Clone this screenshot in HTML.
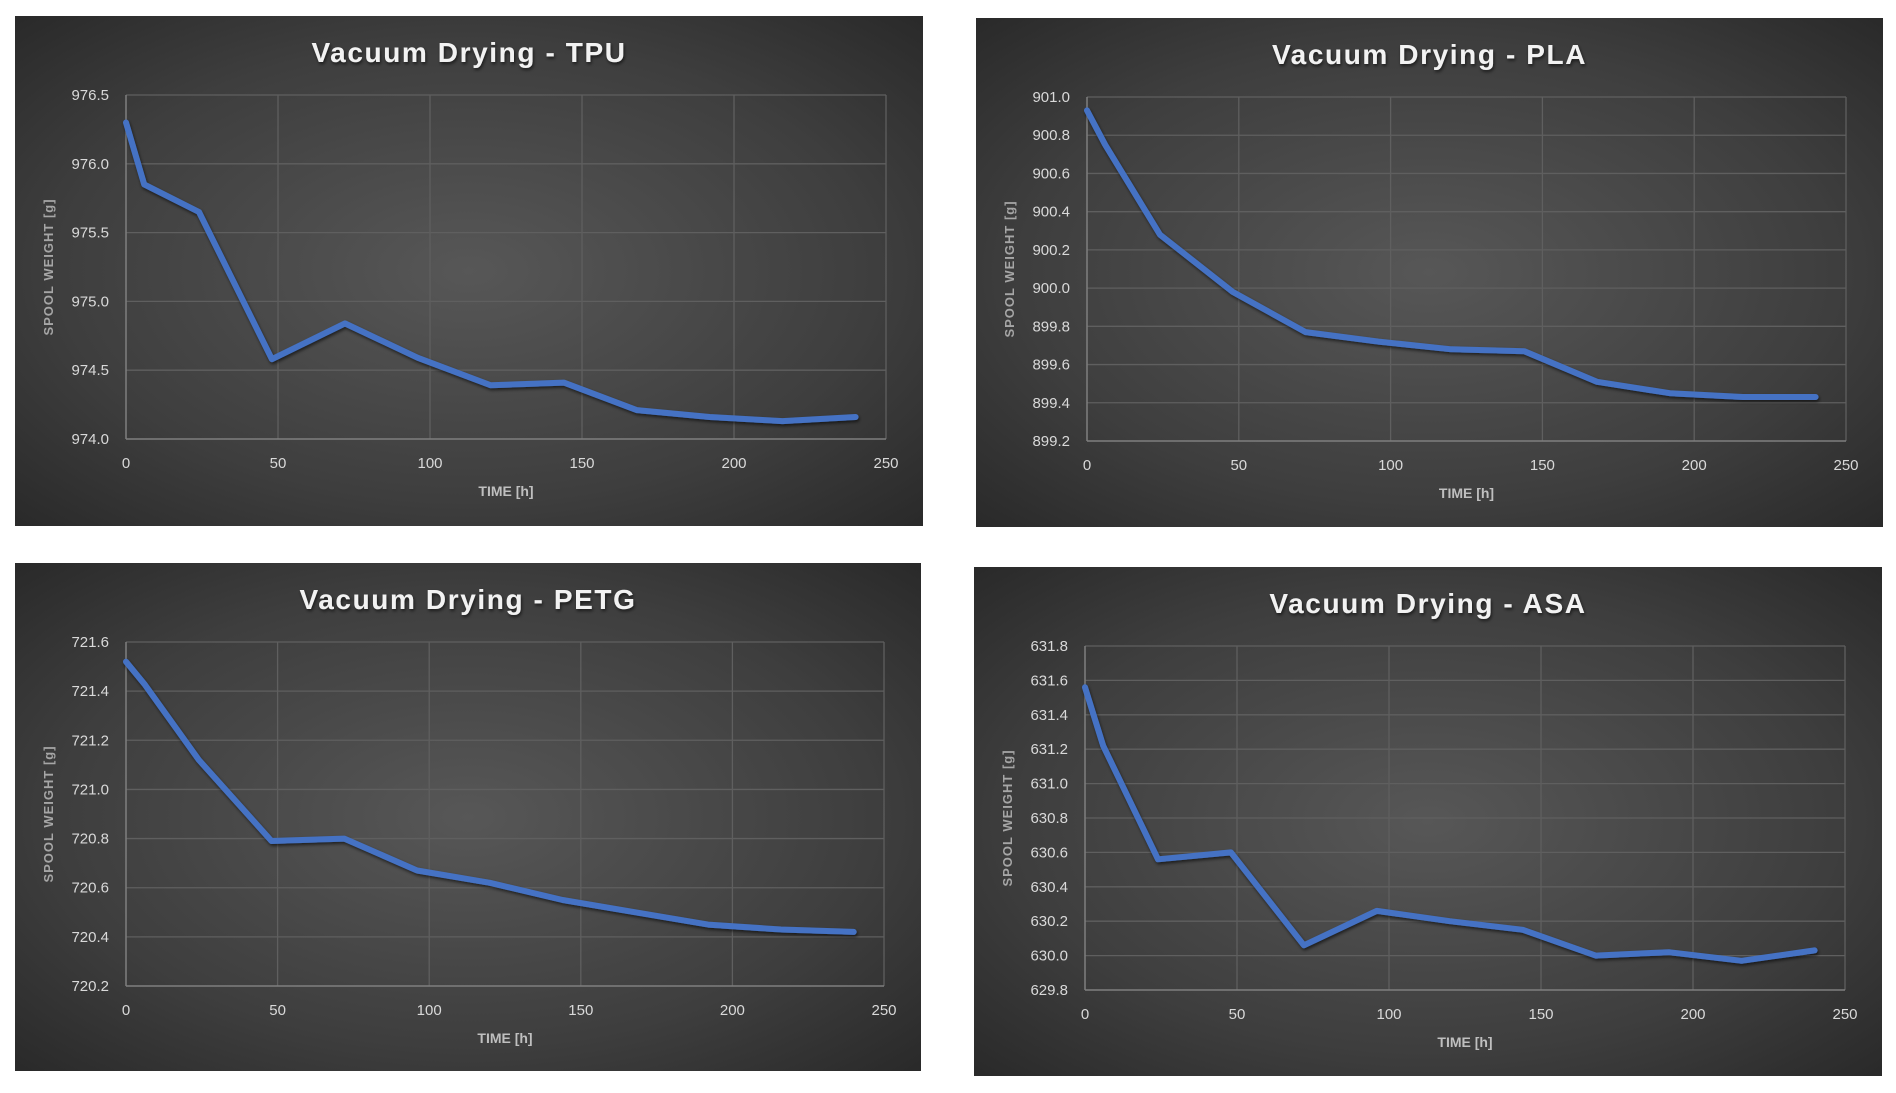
<!DOCTYPE html>
<html><head><meta charset="utf-8">
<style>
html,body{margin:0;padding:0;background:#fff;}
body{width:1896px;height:1093px;position:relative;overflow:hidden;}
svg{position:absolute;left:0;top:0;}
text{font-family:"Liberation Sans",sans-serif;}
</style></head>
<body>
<svg id="chart" width="1896" height="1093" xmlns="http://www.w3.org/2000/svg">
<defs>
<radialGradient id="bg" cx="0.5" cy="0.5" r="0.75">
<stop offset="0" stop-color="#575757"/>
<stop offset="0.6" stop-color="#3e3e3e"/>
<stop offset="1" stop-color="#262626"/>
</radialGradient>
<filter id="sh" x="-5%" y="-5%" width="110%" height="120%"><feDropShadow dx="1" dy="2" stdDeviation="1.5" flood-color="#000" flood-opacity="0.6"/></filter>
</defs>
</svg>
<script>
const times = [0,6,24,48,72,96,120,144,168,192,216,240];
const tpuValues = [976.30,975.85,975.65,974.58,974.84,974.59,974.39,974.41,974.21,974.16,974.13,974.16];
const plaValues = [900.93,900.75,900.28,899.98,899.77,899.72,899.68,899.67,899.51,899.45,899.43,899.43];
const petgValues = [721.52,721.43,721.12,720.79,720.80,720.67,720.62,720.55,720.50,720.45,720.43,720.42];
const asaValues = [631.56,631.22,630.56,630.60,630.06,630.26,630.20,630.15,630.00,630.02,629.97,630.03];
const xTicks = [0,50,100,150,200,250];
const tpuTicks = [974.0,974.5,975.0,975.5,976.0,976.5];
const plaTicks = [899.2,899.4,899.6,899.8,900.0,900.2,900.4,900.6,900.8,901.0];
const petgTicks = [720.2,720.4,720.6,720.8,721.0,721.2,721.4,721.6];
const asaTicks = [629.8,630.0,630.2,630.4,630.6,630.8,631.0,631.2,631.4,631.6,631.8];

const NS='http://www.w3.org/2000/svg';
const svg=document.getElementById('chart');
function el(tag,attrs,parent){const e=document.createElementNS(NS,tag);for(const k in attrs)e.setAttribute(k,attrs[k]);(parent||svg).appendChild(e);return e;}

function panel(name,title,px,py,pw,ph,vals,ticks){
  const g=el('g',{});
  
  
  const bg=el('rect',{x:px,y:py,width:pw,height:ph,fill:'url(#bg)'},g);
  
  
  const L=px+111,R=px+pw-37,T=py+79,B=py+423;
  const xmin=xTicks[0],xmax=xTicks[xTicks.length-1];
  const ymin=ticks[0],ymax=ticks[ticks.length-1];
  const sx=v=>L+(v-xmin)/(xmax-xmin)*(R-L);
  const sy=v=>B-(v-ymin)/(ymax-ymin)*(B-T);
  const t=el('text',{x:px+pw/2,y:py+46,'text-anchor':'middle','font-size':28,'font-weight':'bold',fill:'#f2f2f2',filter:'url(#sh)','letter-spacing':'1.6'},g);
  t.textContent=title;
  
  
  ticks.forEach(v=>{
    const y=sy(v);
    if(v!==ymin){const gl=el('line',{x1:L,x2:R,y1:y,y2:y,stroke:'#5f5f5f','stroke-width':1.3},g);
    
    }
    const lb=el('text',{x:L-17,y:y+5,'text-anchor':'end','font-size':15,fill:'#d9d9d9'},g);
    lb.textContent=v.toFixed(1);
    
    
  });
  xTicks.forEach(v=>{
    const x=sx(v);
    if(v!==xmin){const gl=el('line',{x1:x,x2:x,y1:T,y2:B,stroke:'#5f5f5f','stroke-width':1.3},g);
    
    }
    const lb=el('text',{x:x,y:B+29,'text-anchor':'middle','font-size':15,fill:'#d9d9d9'},g);
    lb.textContent=v;
    
    
  });
  const ax=el('line',{x1:L,x2:L,y1:T,y2:B,stroke:'#7f7f7f','stroke-width':1.5},g);
  
  
  const axx=el('line',{x1:L,x2:R,y1:B,y2:B,stroke:'#7f7f7f','stroke-width':1.5},g);
  
  
  const xt=el('text',{x:(L+R)/2,y:py+480,'text-anchor':'middle','font-size':14,'font-weight':'bold',fill:'#bfbfbf'},g);
  xt.textContent='TIME [h]';
  
  
  const cy=(T+B)/2, cx=px+38;
  const yt=el('text',{x:cx,y:cy,'text-anchor':'middle','font-size':13,'font-weight':'bold',fill:'#a6a6a6',transform:'rotate(-90 '+cx+' '+cy+')','letter-spacing':'1'},g);
  yt.textContent='SPOOL WEIGHT [g]';
  
  
  const pts=times.map((tm,i)=>sx(tm).toFixed(1)+','+sy(vals[i]).toFixed(1)).join(' ');
  const ln=el('polyline',{points:pts,fill:'none',stroke:'#4472c4','stroke-width':6,'stroke-linejoin':'round','stroke-linecap':'round',filter:'url(#sh)'},g);
  
  
}
panel('tpu','Vacuum Drying - TPU',15,16,908,510,tpuValues,tpuTicks);
panel('pla','Vacuum Drying - PLA',976,18,907,509,plaValues,plaTicks);
panel('petg','Vacuum Drying - PETG',15,563,906,508,petgValues,petgTicks);
panel('asa','Vacuum Drying - ASA',974,567,908,509,asaValues,asaTicks);
</script>
</body></html>
